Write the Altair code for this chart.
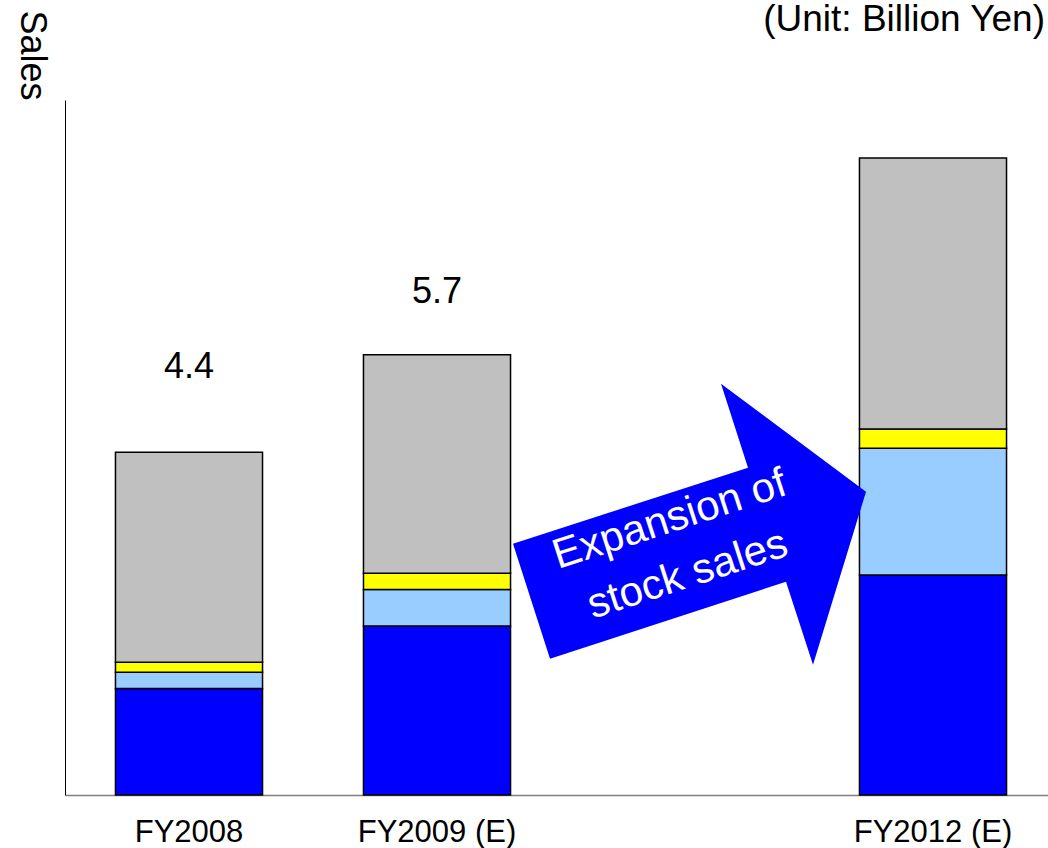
import altair as alt
import pandas as pd

# ---- data (Billion Yen) ----
years = ["FY2008", "FY2009 (E)", "FY2012 (E)"]
slots = ["FY2008", "FY2009 (E)", " ", "FY2012 (E)"]   # empty slot between FY2009 and FY2012
segments = ["Segment A", "Segment B", "Segment C", "Segment D"]
seg_colors = ["#0000FF", "#99CCFF", "#FFFF00", "#C0C0C0"]
seg_a = [1.38, 2.19, 2.85]   # blue (bottom)
seg_b = [0.21, 0.47, 1.64]   # light blue
seg_c = [0.13, 0.21, 0.25]   # yellow
seg_d = [2.72, 2.83, 3.51]   # gray (top)
total_labels = ["4.4", "5.7"]
label_years = ["FY2008", "FY2009 (E)"]
label_at = [5.54, 6.52]      # where the total labels sit, in data units

arrow_text = ["Expansion of", "stock sales"]
unit_text = "(Unit: Billion Yen)"
arrow_slot = " "
arrow_value = 3.5

FONT = "Liberation Sans"

rows = []
for i, y in enumerate(years):
    for k, (s, vals) in enumerate(zip(segments, [seg_a, seg_b, seg_c, seg_d])):
        rows.append({"year": y, "segment": s, "order": k, "value": vals[i]})
bars_df = pd.DataFrame(rows)

labels_df = pd.DataFrame({"year": label_years, "pos": label_at, "label": total_labels})
arrow_df = pd.DataFrame({"year": [arrow_slot], "value": [arrow_value]})
unit_df = pd.DataFrame({"t": [unit_text]})

x_scale = alt.Scale(domain=slots, range=[0, 992], paddingInner=0.407, paddingOuter=0.2035)
y_scale = alt.Scale(domain=[0, 9], nice=False, zero=True)

x_axis = alt.Axis(title=None, ticks=False, tickSize=0, labelAngle=0, labelFontSize=31,
                  labelFont=FONT, labelColor="black", labelPadding=22,
                  domainColor="#808080", domainWidth=1.5, grid=False)
y_axis = alt.Axis(title="Sales", titleAngle=90, titleFontSize=36, titleFont=FONT,
                  titleFontWeight="normal", titleColor="black", titleX=-34, titleY=-45,
                  titleAlign="center", titleBaseline="middle",
                  labels=False, ticks=False, grid=False, domainColor="black", domainWidth=1)

bars = alt.Chart(bars_df).mark_bar(stroke="black", strokeWidth=1.5).encode(
    x=alt.X("year:N", scale=x_scale, axis=x_axis, sort=slots),
    y=alt.Y("sum(value):Q", scale=y_scale, axis=y_axis, stack="zero"),
    color=alt.Color("segment:N", scale=alt.Scale(domain=segments, range=seg_colors), legend=None),
    order=alt.Order("order:Q", sort="ascending"),
)

labels = alt.Chart(labels_df).mark_text(fontSize=36, font=FONT, color="black",
                                        baseline="middle").encode(
    x=alt.X("year:N", scale=x_scale, sort=slots),
    y=alt.Y("pos:Q", scale=y_scale),
    text="label:N",
)

arrow_path = ("M -0.86 0.095 L -0.675 0.67 L 0.505 0.285 L 0.64 0.70 "
              "L 0.905 -0.165 L 0.18 -0.705 L 0.315 -0.285 Z")
arrow = alt.Chart(arrow_df).mark_point(shape=arrow_path, size=160000, filled=True,
                                       fill="#0000FF", opacity=1, strokeWidth=0).encode(
    x=alt.X("year:N", scale=x_scale, sort=slots),
    y=alt.Y("value:Q", scale=y_scale),
)

arrow_label = alt.Chart(arrow_df).mark_text(text=arrow_text, fontSize=42, font=FONT,
                                            color="white", angle=342, lineHeight=58,
                                            align="center", baseline="middle",
                                            dx=-13, dy=-10).encode(
    x=alt.X("year:N", scale=x_scale, sort=slots),
    y=alt.Y("value:Q", scale=y_scale),
)

unit = alt.Chart(unit_df).mark_text(fontSize=37, font=FONT, color="black",
                                    align="right", baseline="alphabetic").encode(
    x=alt.value(980), y=alt.value(-69), text="t:N",
)

chart = alt.layer(bars, labels, arrow, arrow_label, unit).properties(
    width=983, height=695,
    autosize=alt.AutoSizeParams(type="none"),
    padding={"left": 65, "top": 100, "right": 0, "bottom": 53},
).configure(font=FONT).configure_view(stroke="transparent", strokeWidth=0)

chart.save("out.html", embed_options={"renderer": "svg", "actions": False})
